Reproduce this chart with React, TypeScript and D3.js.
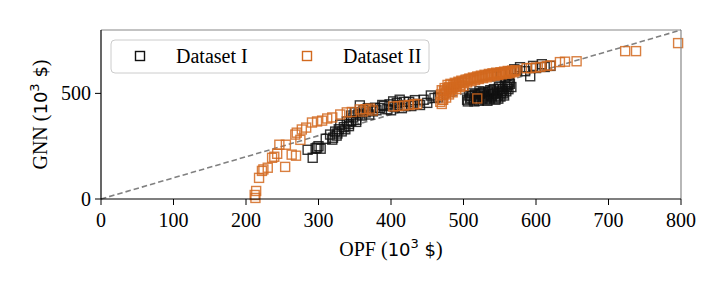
import * as d3 from 'd3';

const WIDTH = 720;
const HEIGHT = 288;
const MARGIN = { top: 30, right: 39, bottom: 89, left: 101 };

const X_TICKS = [0, 100, 200, 300, 400, 500, 600, 700, 800];
const Y_TICKS = [0, 500];
const SERIES_NAMES = ['Dataset I', 'Dataset II'];
const SERIES_COLORS = ['#111111', '#d2691e'];

// Dataset I: [OPF, GNN] in 10^3 $
const datasetI: [number, number][] = [
  [292, 195], [285, 233], [298, 243], [300, 250], [303, 238], [296, 240], [310, 285], [319, 281],
  [316, 305], [323, 319], [320, 290], [325, 300], [330, 352], [328, 330], [335, 340], [339, 367],
  [342, 355], [348, 386], [345, 370], [352, 375], [357, 443], [355, 400], [360, 395], [365, 410],
  [370, 400], [375, 415], [380, 420], [385, 430], [390, 440], [395, 425], [400, 420], [405, 435],
  [410, 445], [415, 430], [420, 440], [425, 460], [430, 450], [440, 445], [450, 455], [460, 478],
  [465, 481], [433, 468], [408, 455],
  [345, 395], [350, 410], [362, 420], [368, 430], [378, 432], [388, 445], [398, 448], [403, 462],
  [412, 470], [418, 460], [428, 440], [445, 470], [455, 490], [352, 365], [337, 330], [332, 320],
  [326, 310], [342, 345],
  [505, 470], [510, 480], [515, 462], [520, 490], [525, 500], [530, 470], [535, 495], [540, 510],
  [545, 480], [550, 520], [555, 500], [560, 530], [512, 500], [518, 475], [528, 485], [533, 465],
  [538, 490], [543, 500], [548, 475], [553, 510], [558, 545], [563, 552], [522, 510], [508, 490],
  [506, 462], [509, 475], [511, 488], [514, 470], [516, 495], [519, 482], [521, 465], [523, 498],
  [526, 475], [527, 505], [529, 490], [531, 480], [534, 505], [536, 475], [537, 515], [539, 485],
  [541, 498], [542, 520], [544, 470], [546, 505], [547, 490], [549, 530], [551, 485], [552, 500],
  [554, 520], [556, 490], [557, 535], [559, 510], [561, 540], [562, 520], [564, 545], [566, 530],
  [546, 580], [552, 590], [558, 600], [565, 605], [570, 614], [574, 610], [578, 624], [592, 581],
  [600, 620], [608, 638], [612, 625], [620, 630], [585, 605], [596, 630],
];

// Dataset II: [OPF, GNN] in 10^3 $
const datasetII: [number, number][] = [
  [212, 19], [214, 38], [213, 5], [218, 100], [222, 133], [224, 140], [230, 148], [236, 195],
  [239, 200], [243, 214], [254, 152], [246, 257], [255, 257], [263, 210], [269, 205], [270, 314],
  [277, 329], [268, 305], [275, 280], [283, 338], [291, 362], [298, 367], [305, 371], [312, 381],
  [319, 386], [330, 400], [339, 410], [346, 412], [361, 414], [375, 419], [357, 424], [365, 425],
  [371, 428], [403, 438], [410, 440], [418, 442], [425, 445], [432, 448], [436, 450],
  [470, 450], [471, 470], [472, 490], [473, 510], [475, 500], [478, 520], [480, 530], [483, 515],
  [486, 540], [490, 545], [494, 550], [498, 555], [502, 560], [506, 565], [510, 568], [514, 572],
  [518, 575], [522, 578], [526, 580], [530, 583], [534, 586], [538, 588], [542, 590], [546, 592],
  [550, 595], [554, 597], [558, 600], [562, 602], [566, 604], [571, 605], [476, 480], [480, 495],
  [485, 505], [490, 520], [495, 530], [500, 535], [519, 476],
  [468, 460], [469, 495], [470, 515], [472, 470], [474, 525], [476, 505], [478, 540], [481, 510],
  [482, 545], [484, 525], [487, 530], [488, 550], [491, 535], [493, 555], [496, 540], [497, 560],
  [500, 548], [503, 565], [505, 552], [508, 570], [511, 558], [513, 575], [516, 563], [519, 580],
  [521, 568], [524, 584], [527, 572], [529, 588], [532, 576], [535, 592], [537, 580], [540, 595],
  [543, 584], [545, 598], [548, 587], [551, 600], [553, 590], [556, 603], [559, 593], [561, 606],
  [564, 596], [567, 608], [569, 600], [572, 610],
  [587, 619], [593, 620], [600, 622], [606, 625], [615, 630], [620, 632], [633, 648], [640, 650],
  [656, 652], [723, 700], [738, 700], [796, 738],
];

const SERIES = [datasetI, datasetII];
const SQ = 9;

const App = () => {
  const boundsWidth = WIDTH - MARGIN.left - MARGIN.right;
  const boundsHeight = HEIGHT - MARGIN.top - MARGIN.bottom;

  const xScale = d3.scaleLinear().domain([0, 800]).range([0, boundsWidth]);
  const yScale = d3.scaleLinear().domain([0, 800]).range([boundsHeight, 0]);

  const serif = "'Liberation Serif', 'Times New Roman', serif";
  const sans = "'DejaVu Sans', sans-serif";

  const points = SERIES.map((data, s) =>
    data.map((d, i) => (
      <rect
        key={`${s}-${i}`}
        x={xScale(d[0]) - SQ / 2}
        y={yScale(d[1]) - SQ / 2}
        width={SQ}
        height={SQ}
        fill="none"
        stroke={SERIES_COLORS[s]}
        strokeOpacity={0.85}
        strokeWidth={1.4}
      />
    ))
  );

  const unitLabel = (
    <>
      <tspan fontFamily={sans} fontSize={18}>10</tspan>
      <tspan fontFamily={sans} fontSize={13} dy={-8}>3</tspan>
      <tspan fontFamily={sans} fontSize={18} dy={8}> $</tspan>
      <tspan>)</tspan>
    </>
  );

  return (
    <svg
      width={WIDTH}
      height={HEIGHT}
      style={{ position: 'absolute', left: 0, top: 0, background: '#fff' }}
    >
      <g transform={`translate(${MARGIN.left},${MARGIN.top})`}>
        {/* y = x reference */}
        <line
          x1={xScale(0)}
          y1={yScale(0)}
          x2={xScale(800)}
          y2={yScale(800)}
          stroke="#808080"
          strokeWidth={1.6}
          strokeDasharray="5.5,3"
        />
        {points}

        {/* spines */}
        <line x1={0} x2={boundsWidth} y1={0} y2={0} stroke="#888" strokeWidth={1.2} />
        <line x1={boundsWidth} x2={boundsWidth} y1={0} y2={boundsHeight} stroke="#888" strokeWidth={1.2} />
        <line x1={0} x2={0} y1={0} y2={boundsHeight} stroke="#000" strokeWidth={1.2} />
        <line x1={0} x2={boundsWidth} y1={boundsHeight} y2={boundsHeight} stroke="#000" strokeWidth={1.2} />

        {X_TICKS.map((t) => (
          <g key={t} transform={`translate(${xScale(t)},${boundsHeight})`}>
            <line y1={0} y2={6} stroke="#000" strokeWidth={1} />
            <text y={28} textAnchor="middle" fontFamily={serif} fontSize={20} fill="#000">
              {t}
            </text>
          </g>
        ))}
        {Y_TICKS.map((t) => (
          <g key={t} transform={`translate(0,${yScale(t)})`}>
            <line x1={-6} x2={0} stroke="#000" strokeWidth={1} />
            <text x={-10} y={7} textAnchor="end" fontFamily={serif} fontSize={20} fill="#000">
              {t}
            </text>
          </g>
        ))}

        {/* legend */}
        <g transform="translate(10,10)">
          <rect x={0} y={0} width={318} height={33} rx={4} fill="#fff" fillOpacity={0.8} stroke="#ccc" />
          {SERIES_NAMES.map((name, i) => (
            <g key={name} transform={`translate(${29 + i * 167},16)`}>
              <rect x={-SQ / 2} y={-SQ / 2} width={SQ} height={SQ} fill="none" stroke={SERIES_COLORS[i]} strokeWidth={1.4} />
              <text x={36} y={7} fontFamily={serif} fontSize={20} fill="#000">
                {name}
              </text>
            </g>
          ))}
        </g>
      </g>

      <text x={391} y={256} textAnchor="middle" fontFamily={serif} fontSize={20} fill="#000">
        OPF ({unitLabel}
      </text>
      <text
        transform={`translate(47,${MARGIN.top + boundsHeight / 2}) rotate(-90)`}
        textAnchor="middle"
        fontFamily={serif}
        fontSize={20}
        fill="#000"
      >
        GNN ({unitLabel}
      </text>
    </svg>
  );
};

export default App;
